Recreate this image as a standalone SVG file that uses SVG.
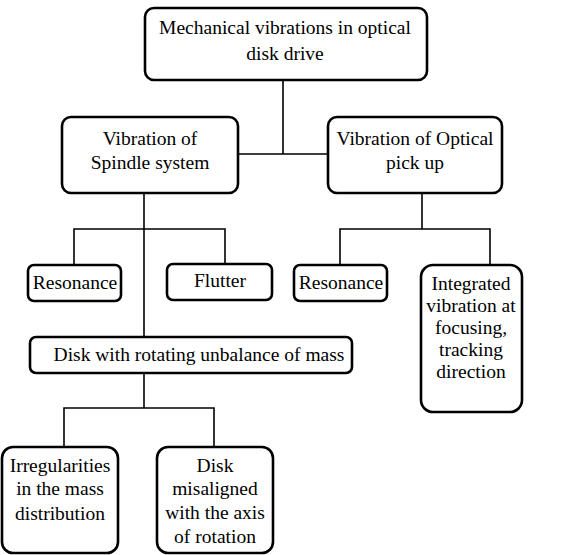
<svg xmlns="http://www.w3.org/2000/svg" width="567" height="555" viewBox="0 0 567 555">
<style>
.box{fill:#fff;stroke:#000;stroke-width:2.6}
.t{font-family:'Liberation Serif','Times New Roman','DejaVu Serif',serif;font-size:19.5px;fill:#000;text-anchor:middle}
.c{fill:none;stroke:#000;stroke-width:1.6}
</style>
<rect width="567" height="555" fill="#fff"/>
<g id="connectors">
<path class="c" d="M283,80 V154 M238,154 H328"/>
<path class="c" d="M144,193 V337 M74,265 V229 H225 V265"/>
<path class="c" d="M422,193 V229 M340,265 V229 H490 V265"/>
<path class="c" d="M144,373 V408 M64,447 V408 H214 V447"/>
</g>
<g id="root">
<rect class="box" x="145" y="8" width="282" height="72" rx="9"/>
<text class="t" x="285" y="34">Mechanical vibrations in optical</text>
<text class="t" x="285" y="60">disk drive</text>
</g>
<g id="spindle">
<rect class="box" x="62" y="117" width="176" height="76" rx="9"/>
<text class="t" x="150" y="145">Vibration of</text>
<text class="t" x="150" y="169">Spindle system</text>
</g>
<g id="pickup">
<rect class="box" x="328" y="117" width="174" height="76" rx="9"/>
<text class="t" x="415" y="145">Vibration of Optical</text>
<text class="t" x="415" y="169">pick up</text>
</g>
<g id="resonance1">
<rect class="box" x="28" y="265" width="93" height="36" rx="6"/>
<text class="t" x="75" y="289">Resonance</text>
</g>
<g id="flutter">
<rect class="box" x="167" y="264" width="105" height="36" rx="6"/>
<text class="t" x="220" y="287">Flutter</text>
</g>
<g id="resonance2">
<rect class="box" x="294" y="265" width="93" height="36" rx="6"/>
<text class="t" x="341" y="289">Resonance</text>
</g>
<g id="integrated">
<rect class="box" x="421" y="265" width="101" height="147" rx="12"/>
<text class="t" x="471" y="290">Integrated</text>
<text class="t" x="471" y="312">vibration at</text>
<text class="t" x="471" y="334">focusing,</text>
<text class="t" x="471" y="356">tracking</text>
<text class="t" x="471" y="378">direction</text>
</g>
<g id="unbalance">
<rect class="box" x="30" y="337" width="322" height="36" rx="6"/>
<text class="t" x="199" y="361">Disk with rotating unbalance of mass</text>
</g>
<g id="irregularities">
<rect class="box" x="2" y="447" width="116" height="106" rx="11"/>
<text class="t" x="60" y="472">Irregularities</text>
<text class="t" x="60" y="495">in the mass</text>
<text class="t" x="60" y="520">distribution</text>
</g>
<g id="misaligned">
<rect class="box" x="157" y="447" width="116" height="106" rx="11"/>
<text class="t" x="215" y="472">Disk</text>
<text class="t" x="215" y="495">misaligned</text>
<text class="t" x="215" y="519">with the axis</text>
<text class="t" x="215" y="543">of rotation</text>
</g>
</svg>
